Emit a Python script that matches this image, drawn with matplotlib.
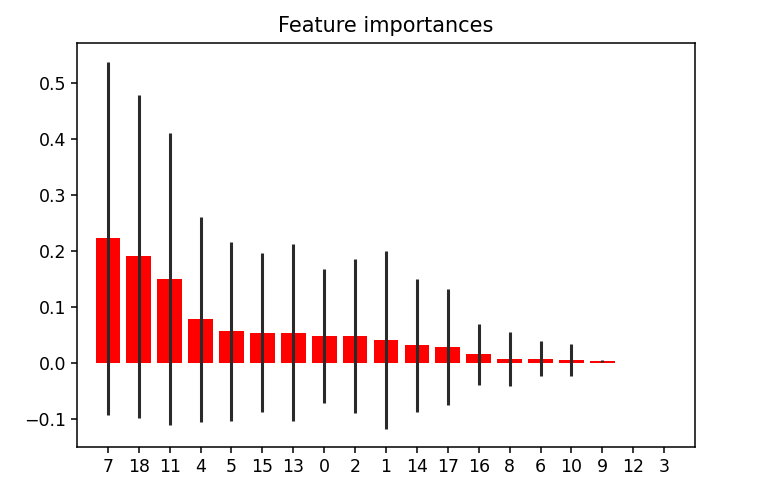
import numpy as np
import matplotlib.pyplot as plt

# feature indices, sorted by importance (as shown on the x axis)
features = ["7", "18", "11", "4", "5", "15", "13", "0", "2", "1",
            "14", "17", "16", "8", "6", "10", "9", "12", "3"]
importances = [0.222, 0.190, 0.150, 0.078, 0.056, 0.054, 0.054, 0.048, 0.048, 0.041,
               0.031, 0.028, 0.015, 0.007, 0.007, 0.005, 0.003, 0.0, 0.0]
std = [0.316, 0.288, 0.261, 0.183, 0.160, 0.142, 0.1585, 0.120, 0.137, 0.1585,
       0.119, 0.1035, 0.054, 0.048, 0.031, 0.028, 0.002, 0.0, 0.0]

plt.rcParams['font.size'] = 12.5
plt.rcParams['axes.linewidth'] = 1.1
plt.rcParams['xtick.major.size'] = 4.3
plt.rcParams['ytick.major.size'] = 4.3
plt.rcParams['xtick.major.width'] = 1.1
plt.rcParams['ytick.major.width'] = 1.1

fig = plt.figure(figsize=(7.72, 4.96), dpi=100)
ax = fig.add_axes([0.0997, 0.099, 0.8006, 0.814])

x = np.arange(len(features))
ax.bar(x, importances, color="r", yerr=std, align="center",
       error_kw=dict(ecolor="#2a2a2a", elinewidth=2.2))
ax.set_xticks(x)
ax.set_xticklabels(features)
ax.set_xlim(-1, len(features))
ax.set_title("Feature importances", fontsize=15, pad=8)

fig.savefig("out.png", dpi=100)
